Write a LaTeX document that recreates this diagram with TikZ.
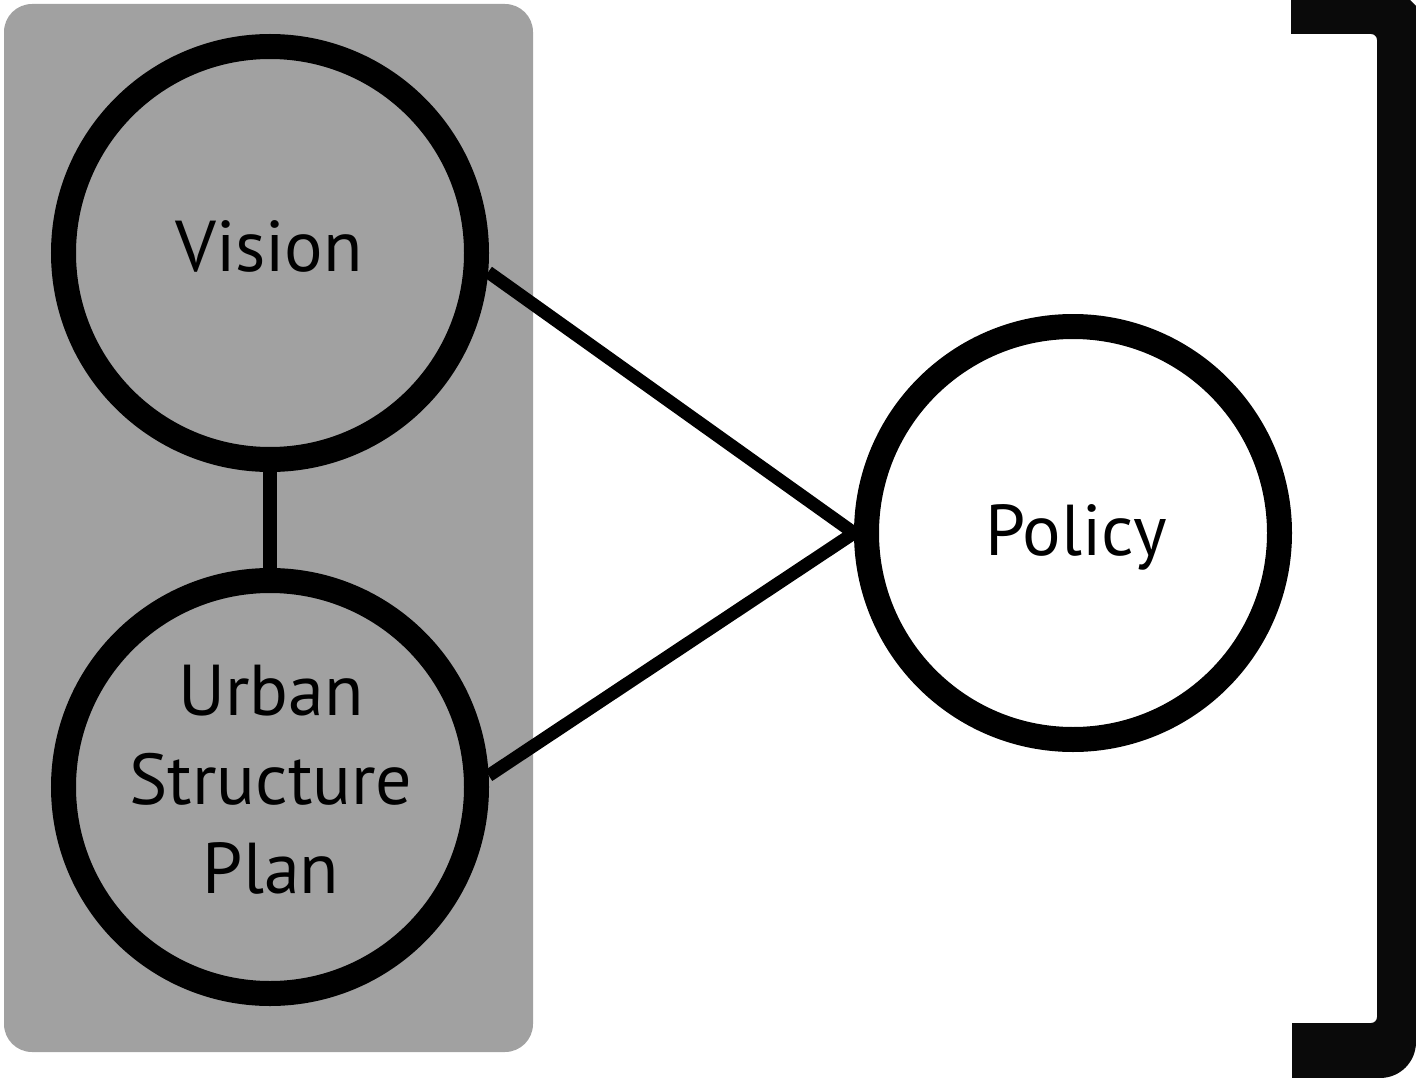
\documentclass[tikz,border=0pt]{standalone}
\usepackage{fontspec}
\setmainfont{PT Sans}
\usetikzlibrary{backgrounds}
\definecolor{boxgray}{gray}{0.63}
\definecolor{barblack}{gray}{0.04}
\begin{document}
\begin{tikzpicture}[x=1pt,y=-1pt,
  ring/.style={circle, draw=black, line width=25pt, minimum size=413pt, inner sep=0pt, fill=boxgray},
  lbl/.style={font=\fontsize{72}{89}\selectfont, align=center, text=black, inner sep=0pt},
  link/.style={line width=13pt, draw=black},
  stem/.style={line width=14pt, draw=black}]
\useasboundingbox (0,0) rectangle (1416,1078);
% circles
\node[ring] (vision) at (270,253) {};
\node[ring] (urban) at (270,787) {};
\node[ring, fill=white] (policy) at (1073,533) {};
% texts
\node[lbl, anchor=base] (visiontxt) at (269,271) {Vision};
\node[lbl] (urbantxt) at (271,780) {Urban\\Structure\\Plan};
\node[lbl, anchor=base] (policytxt) at (1076,555) {Policy};
% panel and connectors behind
\begin{pgfonlayer}{background}
\fill[boxgray, rounded corners=28pt] (4,4) rectangle (533,1052);
\draw[stem] (vision.south) -- (urban.north);
\draw[link] (vision.-5) -- (policy.west);
\draw[link] (urban.3) -- (policy.west);
\end{pgfonlayer}
% bracket
\fill[barblack] (1291,0) -- (1410,0) -- (1416,6) -- (1416,1042)
  .. controls (1416,1062) and (1400,1078) .. (1380,1078)
  -- (1292,1078) -- (1292,1023) -- (1371,1023)
  .. controls (1374.3,1023) and (1377,1020.3) .. (1377,1017)
  -- (1377,40)
  .. controls (1377,36.7) and (1374.3,34) .. (1371,34)
  -- (1291,34) -- cycle;
\end{tikzpicture}
\end{document}
